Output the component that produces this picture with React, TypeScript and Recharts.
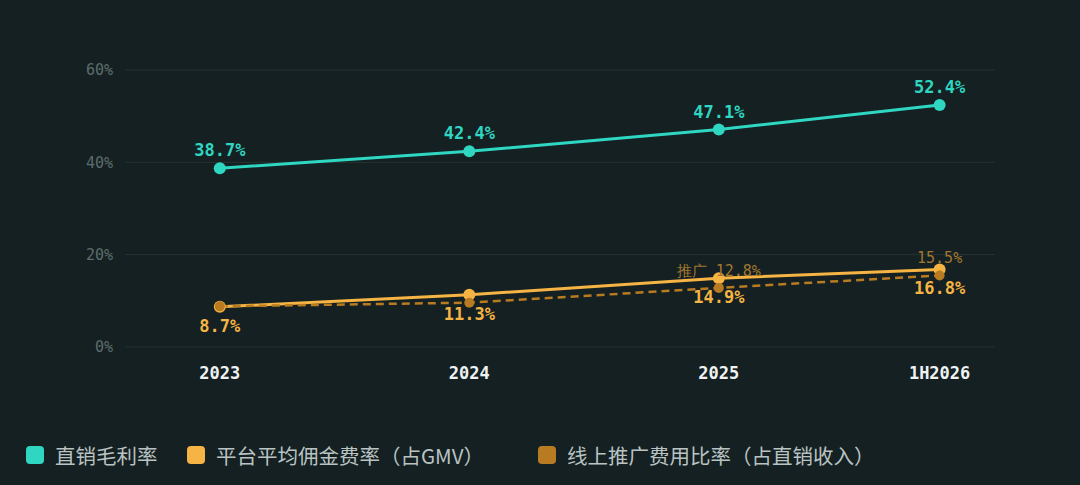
import React from 'react';
import { LineChart, Line, XAxis, YAxis, CartesianGrid, LabelList } from 'recharts';

const categories = ['2023', '2024', '2025', '1H2026'];
const xPositions = [0, 1, 2, 2.885];
const grossMargin = [38.7, 42.4, 47.1, 52.4];
const commissionRate = [8.7, 11.3, 14.9, 16.8];
const promoRate = [8.8, 9.6, 12.8, 15.5];
const promoLabelPrefix = ['', '', '推广 ', ''];
const promoLabelShown = [false, false, true, true];
const yTicks = [0, 20, 40, 60];

const seriesNames = ['直销毛利率', '平台平均佣金费率（占GMV）', '线上推广费用比率（占直销收入）'];
const legendLefts = [26, 187, 538];
const TEAL = '#2fd6c1';
const ORANGE = '#f5b443';
const BROWN = '#b97b22';
const BG = '#142021';
const MONO = '"DejaVu Sans Mono", monospace';

const data = categories.map((c, i) => ({
  x: xPositions[i],
  name: c,
  gross: grossMargin[i],
  commission: commissionRate[i],
  promo: promoRate[i],
}));

const makeLabel = (color: string, dy: number, bold: boolean, size: number, textFn: (v: number, i: number) => string | null) =>
  (props: any) => {
    const { x, y, value, index } = props;
    const t = textFn(value, index);
    if (t === null) return null;
    return (
      <text
        x={x}
        y={y + dy}
        fill={color}
        textAnchor="middle"
        dominantBaseline="central"
        style={{ fontFamily: MONO, fontSize: size, fontWeight: bold ? 700 : 400 }}
      >
        {t}
      </text>
    );
  };

const legendColors = [TEAL, ORANGE, BROWN];

export default function App() {
  return (
    <div style={{ position: 'fixed', left: 0, top: 0, width: 1080, height: 485, background: BG, overflow: 'hidden' }}>
      <LineChart width={1080} height={485} data={data} margin={{ top: 70, right: 85, bottom: 98, left: 0 }}>
        <CartesianGrid horizontal vertical={false} stroke="#253333" strokeWidth={1} />
        <XAxis
          dataKey="x"
          type="number"
          domain={[-0.38, 3.107]}
          ticks={xPositions}
          tickFormatter={(v: number) => categories[xPositions.indexOf(v)] ?? ''}
          axisLine={false}
          tickLine={false}
          tickSize={0}
          tickMargin={20}
          height={40}
          interval={0}
          tick={{ fill: '#eef2f2', fontFamily: MONO, fontSize: 17, fontWeight: 700 }}
        />
        <YAxis
          domain={[0, 60]}
          ticks={yTicks}
          tickFormatter={(v: number) => `${v}%`}
          axisLine={false}
          tickLine={false}
          tickSize={0}
          tickMargin={12}
          width={125}
          tick={{ fill: '#5d6c6c', fontFamily: MONO, fontSize: 15 }}
        />
        <Line
          dataKey="gross"
          stroke={TEAL}
          strokeWidth={3}
          dot={{ r: 6, fill: TEAL, stroke: TEAL, strokeWidth: 0 }}
          isAnimationActive={false}
        >
          <LabelList dataKey="gross" content={makeLabel(TEAL, -18, true, 17, (v) => `${v}%`)} />
        </Line>
        <Line
          dataKey="commission"
          stroke={ORANGE}
          strokeWidth={3}
          dot={{ r: 6, fill: ORANGE, stroke: ORANGE, strokeWidth: 0 }}
          isAnimationActive={false}
        >
          <LabelList dataKey="commission" content={makeLabel(ORANGE, 19, true, 17, (v) => `${v}%`)} />
        </Line>
        <Line
          dataKey="promo"
          stroke={BROWN}
          strokeWidth={2.5}
          strokeDasharray="8 5"
          dot={{ r: 5, fill: BROWN, stroke: BROWN, strokeWidth: 0 }}
          isAnimationActive={false}
        >
          <LabelList
            dataKey="promo"
            content={makeLabel('#a27630', -17, false, 15, (v, i) => (promoLabelShown[i] ? `${promoLabelPrefix[i]}${v}%` : null))}
          />
        </Line>
      </LineChart>
      {seriesNames.map((n, i) => (
        <div
          key={n}
          style={{
            position: 'absolute',
            left: legendLefts[i],
            top: 440,
            height: 30,
            display: 'flex',
            alignItems: 'center',
            fontFamily: '"Noto Sans CJK SC", "Noto Sans", sans-serif',
            fontSize: 20.5,
            color: '#b9c3c3',
            whiteSpace: 'nowrap',
          }}
        >
          <div style={{ width: 18, height: 18, borderRadius: 4, background: legendColors[i], marginRight: 11 }} />
          <span>{n}</span>
        </div>
      ))}
    </div>
  );
}
